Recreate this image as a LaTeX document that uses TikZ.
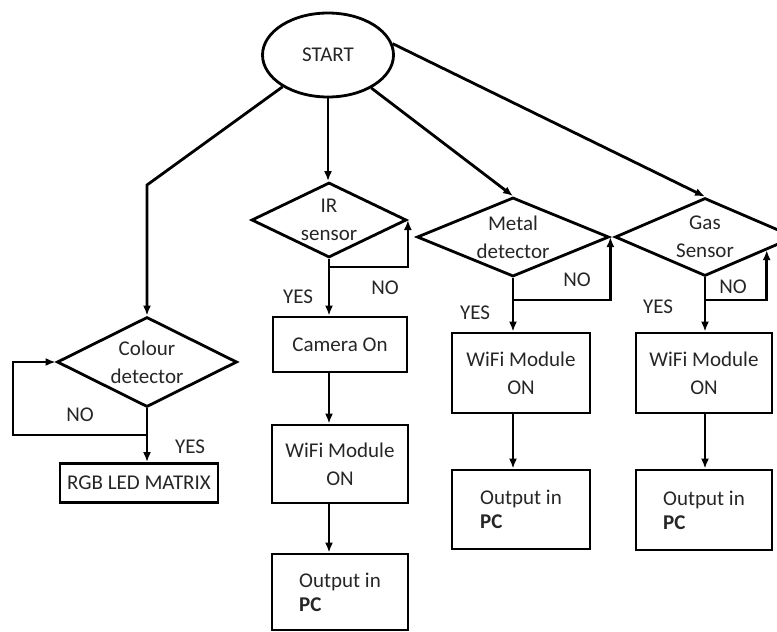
\documentclass[tikz,border=0pt]{standalone}
\usepackage{fontspec}
\setmainfont{Carlito}
\usetikzlibrary{shapes.geometric,arrows.meta}

\begin{document}
\begin{tikzpicture}[x=0.5pt,y=-0.5pt,line width=1.4pt,
	every node/.style={font=\fontsize{10.5}{12}\selectfont,text=black!85},
	arr/.style={-{Latex[length=5pt,width=4pt]}},
	box/.style={draw,rectangle,inner sep=0pt,align=center},
	decision/.style={draw,diamond,aspect=2,inner sep=0pt,align=center},
	lbl/.style={inner sep=0pt}]
		%%%%% START %%%%%
		
		\clip (0,0) rectangle (777,632);
		
		\node[draw,ellipse,minimum width=65.5pt,minimum height=42pt,inner sep=0pt] (start) at (328,55) {START};
		
		\node[decision,minimum width=90pt,minimum height=45pt] (colour) at (147,362) {Colour\\[2pt]detector};
		\node[decision,minimum width=77.5pt,minimum height=37.5pt] (ir) at (329,220) {IR\\[2pt]sensor};
		\node[decision,minimum width=96pt,minimum height=39pt] (metal) at (513,237) {Metal\\[2pt]detector};
		\node[decision,minimum width=90pt,minimum height=39pt] (gas) at (705,237) {Gas\\[2pt]Sensor};
		
		\node[box,minimum width=79pt,minimum height=19.5pt] (rgb) at (139,483) {RGB LED MATRIX};
		
		\node[box,minimum width=67pt,minimum height=27.5pt] (cam) at (340,344.5) {Camera On};
		\node[box,minimum width=68pt,minimum height=39pt] (irwifi) at (340,464) {WiFi Module\\[2pt]ON};
		\node[box,minimum width=68pt,minimum height=38pt,align=left] (irout) at (340,592) {Output in\\\textbf{PC}};
		
		\node[box,minimum width=69pt,minimum height=40pt] (mwifi) at (521,373) {WiFi Module\\[2pt]ON};
		\node[box,minimum width=69pt,minimum height=39.5pt,align=left] (mout) at (521,509.5) {Output in\\\textbf{PC}};
		
		\node[box,minimum width=68pt,minimum height=40pt] (gwifi) at (704,373) {WiFi Module\\[2pt]ON};
		\node[box,minimum width=68pt,minimum height=40pt,align=left] (gout) at (704,510) {Output in\\\textbf{PC}};
		
		% from START
		\coordinate (cbend) at (147,185);
		\draw[arr] (start.215) -- (cbend) -- (colour.north);
		\draw[arr] (start.south) -- (start.south |- ir.north);
		\draw[arr] (start) -- (metal.north);
		\draw[arr] (start.10) -- (gas.north);
		
		% colour detector
		\coordinate (cno) at (147,435);
		\draw[arr] (colour.south) -- (colour.south |- rgb.north);
		\draw[arr] (cno) -- ++(-134,0) |- (colour.west);
		\node[lbl] (cnolbl) at (80,415) {NO};
		\node[lbl] (cyeslbl) at (190,447) {YES};
		
		% IR sensor
		\coordinate (irno) at (329,267);
		\draw[arr] (ir.south) -- (ir.south |- cam.north);
		\draw[arr] (irno) -| (ir.east);
		\draw[arr] (ir.south |- cam.south) -- (ir.south |- irwifi.north);
		\draw[arr] (ir.south |- irwifi.south) -- (ir.south |- irout.north);
		\node[lbl] (irnolbl) at (385,288) {NO};
		\node[lbl] (iryeslbl) at (298,297) {YES};
		
		% metal detector
		\coordinate (mno) at (513,300);
		\draw[arr] (metal.south) -- (metal.south |- mwifi.north);
		\draw[arr] (mno) -| (metal.east);
		\draw[arr] (metal.south |- mwifi.south) -- (metal.south |- mout.north);
		\node[lbl] (mnolbl) at (577,280) {NO};
		\node[lbl] (myeslbl) at (475,313) {YES};
		
		% gas sensor
		\coordinate (gno) at (705,300);
		\draw[arr] (gas.south) -- (gas.south |- gwifi.north);
		\draw[arr] (gno) -| (gas.-12);
		\draw[arr] (gas.south |- gwifi.south) -- (gas.south |- gout.north);
		\node[lbl] (gnolbl) at (733,287) {NO};
		\node[lbl] (gyeslbl) at (658,307) {YES};
		
		%%%%% END %%%%%
	\end{tikzpicture}
\end{document}
